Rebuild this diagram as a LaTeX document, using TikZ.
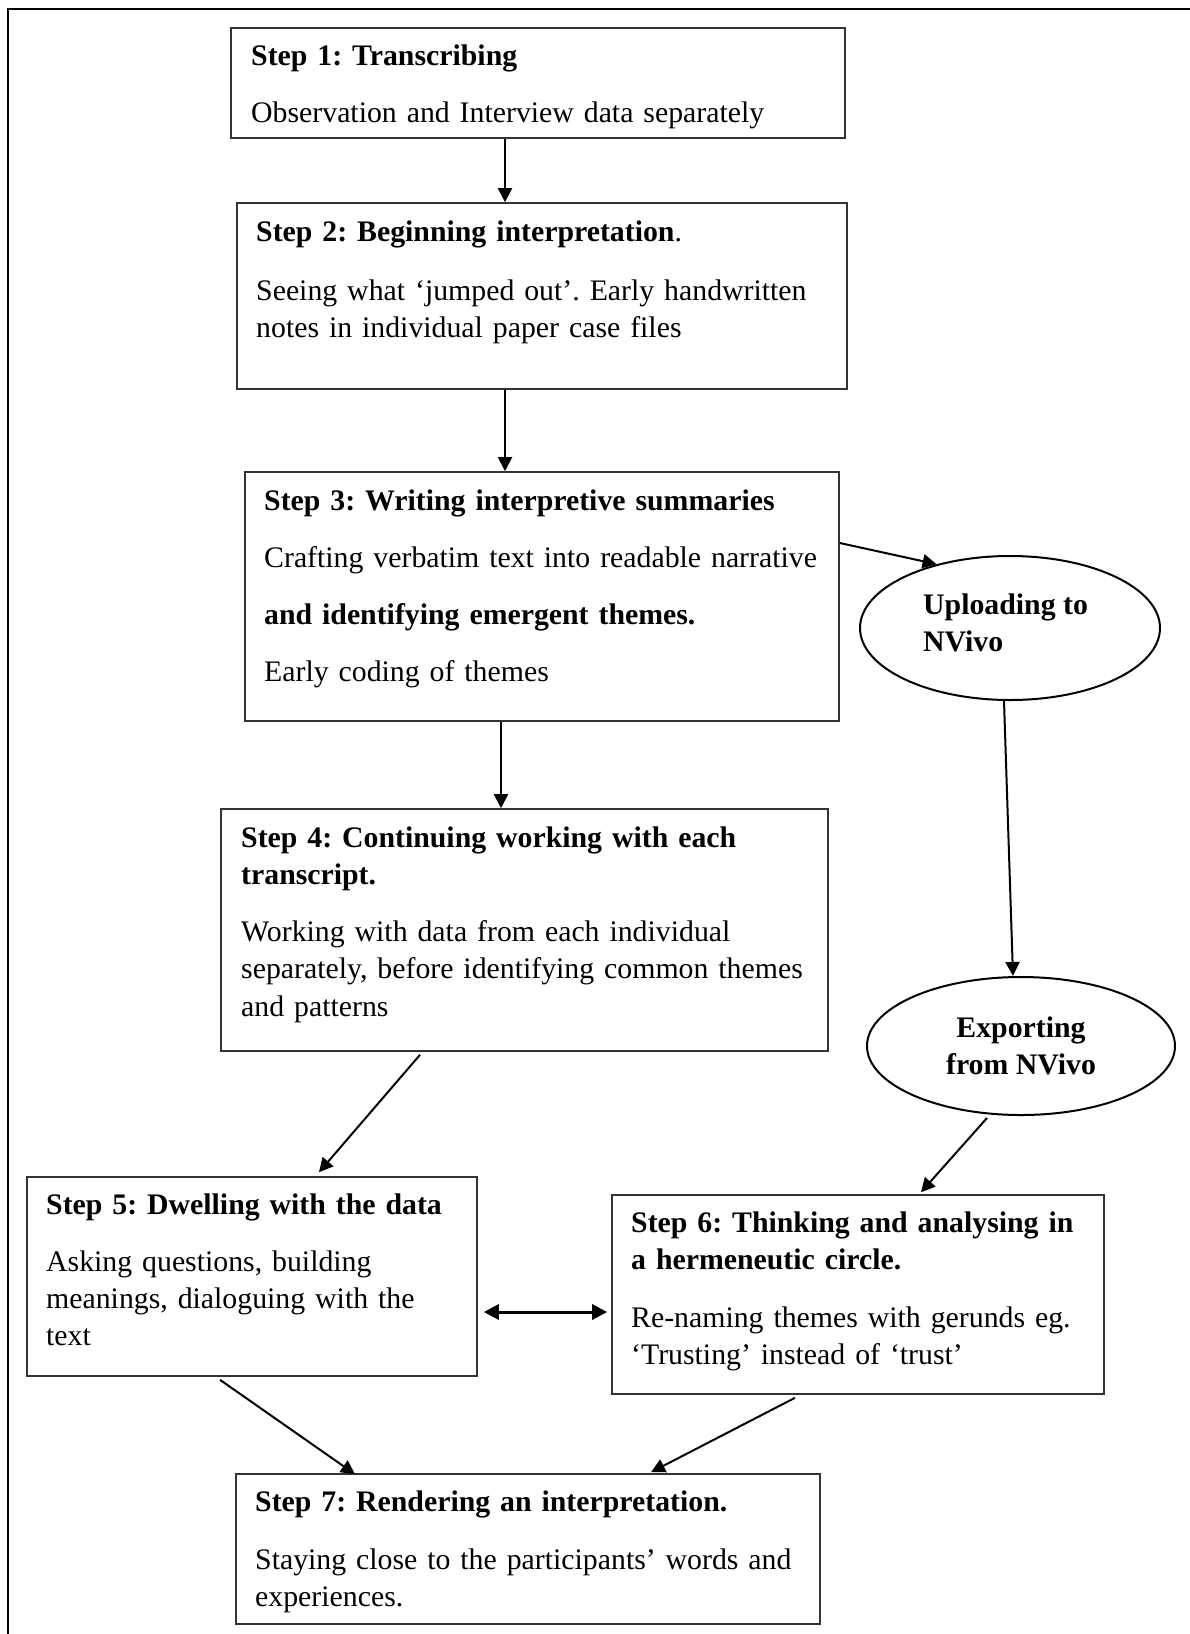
\documentclass[tikz,border=0pt]{standalone}
\usepackage{fontspec}
\setmainfont{Liberation Serif}
\usepackage{tikz}
\usetikzlibrary{arrows.meta, positioning, shapes.geometric, fit, calc}

\begin{document}
\frenchspacing
\begin{tikzpicture}[
    x=1pt, y=-1pt,
    stepbox/.style={draw=black!80, line width=1.6pt, inner sep=0pt, rectangle},
    steptext/.style={anchor=base west, inner sep=0pt, text width=600pt, align=left, font={\fontsize{29.8}{37.3}\selectfont\frenchspacing}},
    nvivo/.style={draw, ellipse, line width=2pt, inner sep=0pt, font={\fontsize{29.8}{37}\selectfont\bfseries}},
    flow/.style={-{Triangle[length=14pt, width=14pt]}, line width=2pt},
    biflow/.style={{Triangle[length=15pt, width=15pt]}-{Triangle[length=15pt, width=15pt]}, line width=3pt}
]
\useasboundingbox (0,0) rectangle (1190,1634);
\fill[white] (0,0) rectangle (1190,1634);
\draw[line width=2.2pt] (8,1640) -- (8,9) -- (1200,9);

\node[stepbox, fit={(231,28) (845,138)}] (s1) {};
\node[stepbox, fit={(237,203) (847,389)}] (s2) {};
\node[stepbox, fit={(245,472) (839,721)}] (s3) {};
\node[stepbox, fit={(221,809) (828,1051)}] (s4) {};
\node[stepbox, fit={(27,1177) (477,1376)}] (s5) {};
\node[stepbox, fit={(612,1195) (1104,1394)}] (s6) {};
\node[stepbox, fit={(236,1474) (820,1624)}] (s7) {};

\node[nvivo, minimum width=300pt, minimum height=144pt] (up) at (1010,628) {};
\node[align=left, inner sep=0pt, font={\fontsize{29.8}{37}\selectfont\bfseries}, anchor=base west] (uptxt) at (923,651.7) {Uploading to\\NVivo};
\node[nvivo, align=center, minimum width=308pt, minimum height=138pt] (ex) at (1021,1046) {Exporting\\from NVivo};

\node[steptext] (s1txt) at (251,65) {\textbf{Step 1: Transcribing}\\[20pt]
    Observation and Interview data separately};
\node[steptext] (s2txt) at (256,241.7) {\textbf{Step 2: Beginning interpretation}.\\[21pt]
    Seeing what ‘jumped out’. Early handwritten\\ notes in individual paper case files};
\node[steptext] (s3txt) at (264,510) {\textbf{Step 3: Writing interpretive summaries}\\[20pt]
    Crafting verbatim text into readable narrative\\[20pt]
    \textbf{and identifying emergent themes.}\\[20pt]
    Early coding of themes};
\node[steptext] (s4txt) at (241,847) {\textbf{Step 4: Continuing working with each}\\ \textbf{transcript.}\\[20pt]
    Working with data from each individual\\ separately, before identifying common themes\\ and patterns};
\node[steptext] (s5txt) at (46,1214) {\textbf{Step 5: Dwelling with the data}\\[20pt]
    Asking questions, building\\ meanings, dialoguing with the\\ text};
\node[steptext] (s6txt) at (631,1232.5) {\textbf{Step 6: Thinking and analysing in}\\ \textbf{a hermeneutic circle.}\\[20pt]
    Re-naming themes with gerunds eg.\\ ‘Trusting’ instead of ‘trust’};
\node[steptext] (s7txt) at (255,1511.8) {\textbf{Step 7: Rendering an interpretation.}\\[20pt]
    Staying close to the participants’ words and\\ experiences.};

\draw[flow] ([xshift=-33pt]s1.south) -- ([xshift=-37pt]s2.north);
\draw[flow] ([xshift=-37pt]s2.south) -- ([xshift=-37pt]s3.north);
\draw[flow] ([xshift=-41pt]s3.south) -- ([xshift=-23.5pt]s4.north);
\draw[flow] ([yshift=53.5pt]s3.east) -- (up.139);
\draw[flow] ([xshift=-6pt]up.south) -- ([xshift=-8pt]ex.north);
\draw[flow] ([xshift=-104.5pt, yshift=-3pt]s4.south) -- ([xshift=67pt, yshift=4pt]s5.north);
\draw[flow] ([xshift=-34pt, yshift=-2pt]ex.south) -- ([xshift=63pt, yshift=2pt]s6.north);
\draw[biflow] ([xshift=6pt, yshift=-35.5pt]s5.east) -- ([xshift=-4pt, yshift=-17.5pt]s6.west);
\draw[flow] ([xshift=-32pt, yshift=-3pt]s5.south) -- ([xshift=-173pt, yshift=-1pt]s7.north);
\draw[flow] ([xshift=-63pt, yshift=-3pt]s6.south) -- ([xshift=123pt, yshift=1pt]s7.north);
\end{tikzpicture}
\end{document}
